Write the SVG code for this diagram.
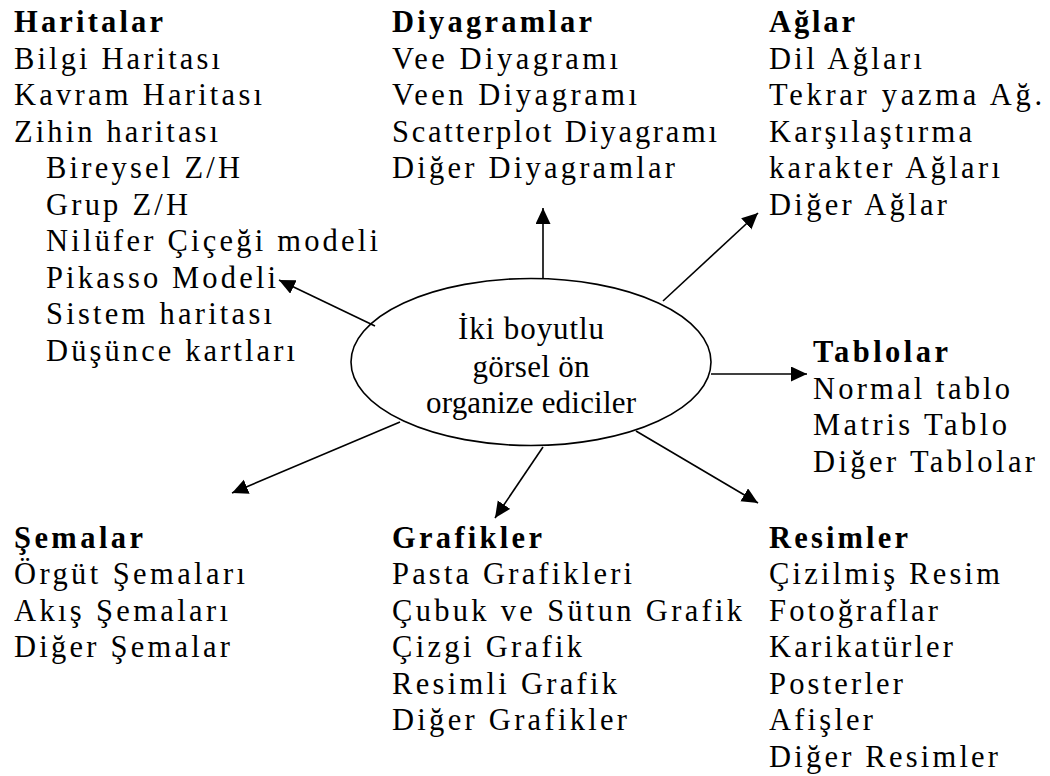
<svg xmlns="http://www.w3.org/2000/svg" width="1050" height="776" viewBox="0 0 1050 776">
  <style>
    text { font-family: "Liberation Serif", "Times New Roman", serif; font-size: 30.5px; fill: #000; }
    .head { font-weight: bold; }
    .core { font-size: 31px; text-anchor: middle; }
    .link { stroke: #000; stroke-width: 1.6; fill: none; marker-end: url(#tip); }
  </style>
  <defs>
    <marker id="tip" markerUnits="userSpaceOnUse" markerWidth="17" markerHeight="16" refX="16" refY="7.5" orient="auto">
      <path d="M0,0 L16,7.5 L0,15 Z" fill="#000"/>
    </marker>
  </defs>

  <rect width="1050" height="776" fill="#fff"/>

  <!-- connectors from the centre ellipse to each group -->
  <g id="connectors">
    <line class="link" x1="543" y1="279" x2="543" y2="208"/>
    <line class="link" x1="663" y1="301" x2="758" y2="213"/>
    <line class="link" x1="711" y1="374" x2="807" y2="374"/>
    <line class="link" x1="636" y1="431" x2="758" y2="503"/>
    <line class="link" x1="543" y1="447" x2="495" y2="518"/>
    <line class="link" x1="400" y1="422" x2="232" y2="493"/>
    <line class="link" x1="375" y1="326" x2="279" y2="280"/>
  </g>

  <!-- central concept -->
  <g id="center">
    <ellipse cx="531" cy="362" rx="180" ry="83.5" fill="none" stroke="#000" stroke-width="1.6"/>
    <text class="core" x="531" y="339" textLength="146">İki boyutlu</text>
    <text class="core" x="531" y="377" textLength="117">görsel ön</text>
    <text class="core" x="531" y="413" textLength="210">organize ediciler</text>
  </g>

  <g id="haritalar">
    <text class="head" x="14" y="32" textLength="149">Haritalar</text>
    <text x="14" y="68.5" textLength="206">Bilgi Haritası</text>
    <text x="14" y="105" textLength="248">Kavram Haritası</text>
    <text x="14" y="141.5" textLength="204">Zihin haritası</text>
    <text x="46" y="178" textLength="194">Bireysel Z/H</text>
    <text x="46" y="214.5" textLength="142">Grup Z/H</text>
    <text x="46" y="251" textLength="332">Nilüfer Çiçeği modeli</text>
    <text x="46" y="287.5" textLength="230">Pikasso Modeli</text>
    <text x="46" y="324" textLength="226">Sistem haritası</text>
    <text x="46" y="360.5" textLength="249">Düşünce kartları</text>
  </g>

  <g id="diyagramlar">
    <text class="head" x="392" y="32" textLength="200">Diyagramlar</text>
    <text x="392" y="68.5" textLength="226">Vee Diyagramı</text>
    <text x="392" y="105" textLength="245">Veen Diyagramı</text>
    <text x="392" y="141.5" textLength="325">Scatterplot Diyagramı</text>
    <text x="392" y="178" textLength="283">Diğer Diyagramlar</text>
  </g>

  <g id="aglar">
    <text class="head" x="769" y="32" textLength="86">Ağlar</text>
    <text x="769" y="68.5" textLength="153">Dil Ağları</text>
    <text x="769" y="105" textLength="273">Tekrar yazma Ağ.</text>
    <text x="769" y="141.5" textLength="203">Karşılaştırma</text>
    <text x="769" y="178" textLength="231">karakter Ağları</text>
    <text x="769" y="214.5" textLength="178">Diğer Ağlar</text>
  </g>

  <g id="tablolar">
    <text class="head" x="813" y="362" textLength="135">Tablolar</text>
    <text x="813" y="398.5" textLength="197">Normal tablo</text>
    <text x="813" y="435" textLength="194">Matris Tablo</text>
    <text x="813" y="471.5" textLength="222">Diğer Tablolar</text>
  </g>

  <g id="semalar">
    <text class="head" x="14" y="548" textLength="129">Şemalar</text>
    <text x="14" y="584" textLength="231">Örgüt Şemaları</text>
    <text x="14" y="620.5" textLength="214">Akış Şemaları</text>
    <text x="14" y="657" textLength="216">Diğer Şemalar</text>
  </g>

  <g id="grafikler">
    <text class="head" x="392" y="548" textLength="150">Grafikler</text>
    <text x="392" y="584" textLength="240">Pasta Grafikleri</text>
    <text x="392" y="620.5" textLength="350">Çubuk ve Sütun Grafik</text>
    <text x="392" y="657" textLength="190">Çizgi Grafik</text>
    <text x="392" y="693.5" textLength="225">Resimli Grafik</text>
    <text x="392" y="730" textLength="235">Diğer Grafikler</text>
  </g>

  <g id="resimler">
    <text class="head" x="769" y="548" textLength="139">Resimler</text>
    <text x="769" y="584" textLength="231">Çizilmiş Resim</text>
    <text x="769" y="620.5" textLength="169">Fotoğraflar</text>
    <text x="769" y="657" textLength="184">Karikatürler</text>
    <text x="769" y="693.5" textLength="134">Posterler</text>
    <text x="769" y="730" textLength="104">Afişler</text>
    <text x="769" y="766.5" textLength="229">Diğer Resimler</text>
  </g>
</svg>
